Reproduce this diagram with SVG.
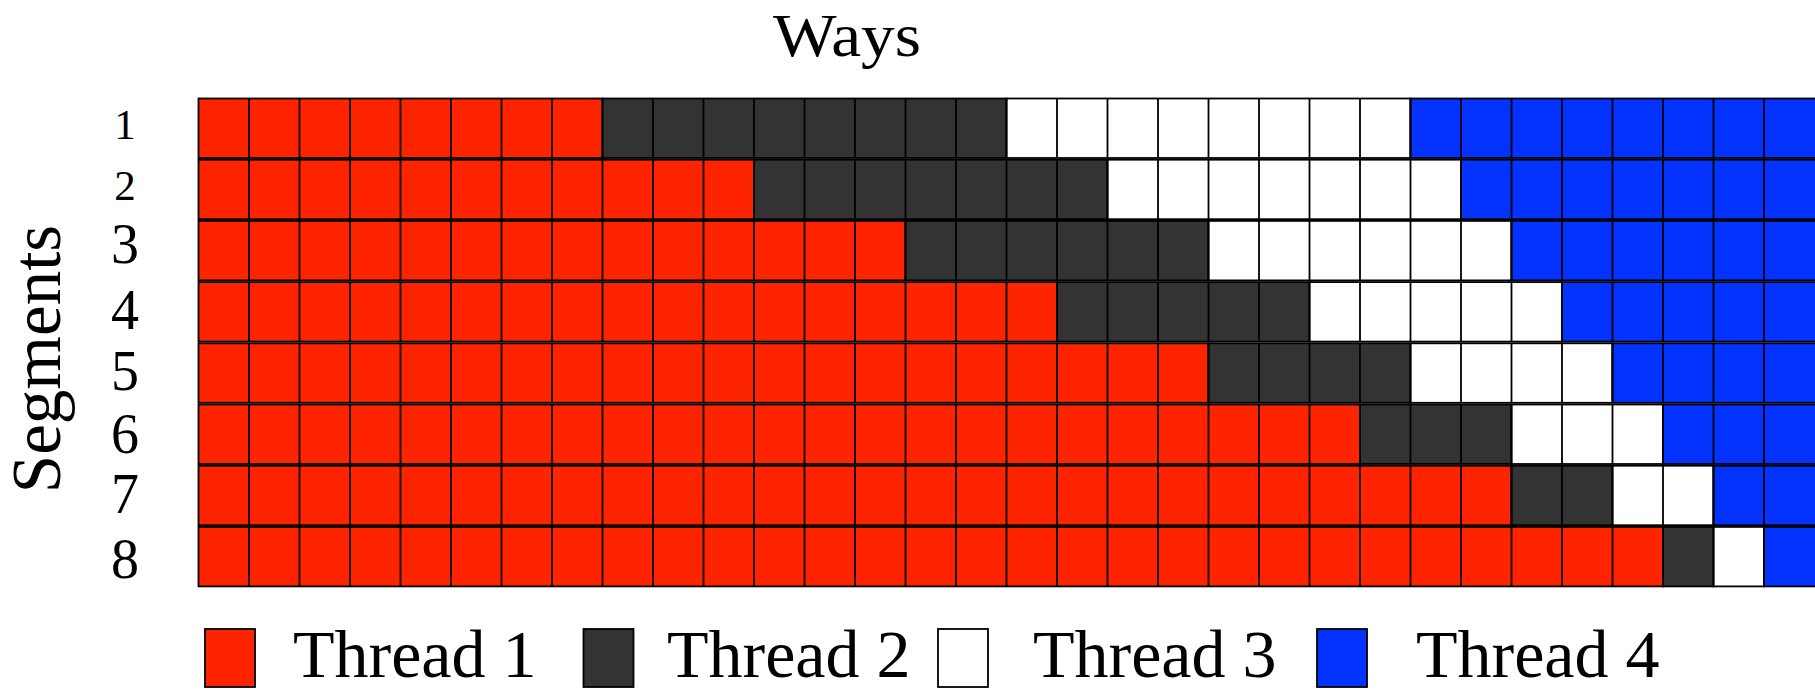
<svg xmlns="http://www.w3.org/2000/svg" xmlns:xlink="http://www.w3.org/1999/xlink" width="1815" height="690" viewBox="0 0 1815 690">
<style>
text{font-family:"Liberation Serif","Times New Roman",serif;fill:#000}
.r{fill:#FF2400}.k{fill:#333333}.w{fill:#FFFFFF}.b{fill:#0433FF}
.cell rect,.leg{stroke:#000;stroke-width:1.8}
.vl{stroke:#000;stroke-width:1.8;fill:none}
.lt{font-size:68px}
</style>
<defs>
<path id="vl" class="vl" d="M249 0v59.5M299.5 0v59.5M350 0v59.5M400.5 0v59.5M451 0v59.5M501.5 0v59.5M552 0v59.5M602.5 0v59.5M653 0v59.5M703.5 0v59.5M754 0v59.5M804.5 0v59.5M855 0v59.5M905.5 0v59.5M956 0v59.5M1006.5 0v59.5M1057 0v59.5M1107.5 0v59.5M1158 0v59.5M1208.5 0v59.5M1259 0v59.5M1309.5 0v59.5M1360 0v59.5M1410.5 0v59.5M1461 0v59.5M1511.5 0v59.5M1562 0v59.5M1612.5 0v59.5M1663 0v59.5M1713.5 0v59.5M1764 0v59.5"/>
</defs>
<rect width="1815" height="690" fill="#fff"/>
<text x="847" y="56" font-size="62" text-anchor="middle" textLength="148" lengthAdjust="spacingAndGlyphs">Ways</text>
<text transform="translate(60,359) rotate(-90)" font-size="69" text-anchor="middle">Segments</text>
<g id="rowlabels" text-anchor="middle">
<text x="125" y="139" font-size="43">1</text>
<text x="125" y="200" font-size="43">2</text>
<text x="125" y="263" font-size="56">3</text>
<text x="125" y="329" font-size="56">4</text>
<text x="125" y="390" font-size="56">5</text>
<text x="125" y="453" font-size="56">6</text>
<text x="125" y="513" font-size="56">7</text>
<text x="125" y="578" font-size="56">8</text>
</g>
<g id="row1" class="cell" transform="translate(0,98.5)">
<rect class="r" x="198.5" y="0" width="404" height="59.5"/><rect class="k" x="602.5" y="0" width="404" height="59.5"/><rect class="w" x="1006.5" y="0" width="404" height="59.5"/><rect class="b" x="1410.5" y="0" width="410" height="59.5"/><use xlink:href="#vl"/>
</g>
<g id="row2" class="cell" transform="translate(0,159.7)">
<rect class="r" x="198.5" y="0" width="555.5" height="59.5"/><rect class="k" x="754" y="0" width="353.5" height="59.5"/><rect class="w" x="1107.5" y="0" width="353.5" height="59.5"/><rect class="b" x="1461" y="0" width="360" height="59.5"/><use xlink:href="#vl"/>
</g>
<g id="row3" class="cell" transform="translate(0,220.9)">
<rect class="r" x="198.5" y="0" width="707" height="59.5"/><rect class="k" x="905.5" y="0" width="303" height="59.5"/><rect class="w" x="1208.5" y="0" width="303" height="59.5"/><rect class="b" x="1511.5" y="0" width="310" height="59.5"/><use xlink:href="#vl"/>
</g>
<g id="row4" class="cell" transform="translate(0,282.1)">
<rect class="r" x="198.5" y="0" width="858.5" height="59.5"/><rect class="k" x="1057" y="0" width="252.5" height="59.5"/><rect class="w" x="1309.5" y="0" width="252.5" height="59.5"/><rect class="b" x="1562" y="0" width="260" height="59.5"/><use xlink:href="#vl"/>
</g>
<g id="row5" class="cell" transform="translate(0,343.3)">
<rect class="r" x="198.5" y="0" width="1010" height="59.5"/><rect class="k" x="1208.5" y="0" width="202" height="59.5"/><rect class="w" x="1410.5" y="0" width="202" height="59.5"/><rect class="b" x="1612.5" y="0" width="210" height="59.5"/><use xlink:href="#vl"/>
</g>
<g id="row6" class="cell" transform="translate(0,404.5)">
<rect class="r" x="198.5" y="0" width="1161.5" height="59.5"/><rect class="k" x="1360" y="0" width="151.5" height="59.5"/><rect class="w" x="1511.5" y="0" width="151.5" height="59.5"/><rect class="b" x="1663" y="0" width="160" height="59.5"/><use xlink:href="#vl"/>
</g>
<g id="row7" class="cell" transform="translate(0,465.7)">
<rect class="r" x="198.5" y="0" width="1313" height="59.5"/><rect class="k" x="1511.5" y="0" width="101" height="59.5"/><rect class="w" x="1612.5" y="0" width="101" height="59.5"/><rect class="b" x="1713.5" y="0" width="110" height="59.5"/><use xlink:href="#vl"/>
</g>
<g id="row8" class="cell" transform="translate(0,526.9)">
<rect class="r" x="198.5" y="0" width="1464.5" height="59.5"/><rect class="k" x="1663" y="0" width="50.5" height="59.5"/><rect class="w" x="1713.5" y="0" width="50.5" height="59.5"/><rect class="b" x="1764" y="0" width="60" height="59.5"/><use xlink:href="#vl"/>
</g>
<g id="legend">
<g id="leg1"><rect class="leg r" x="205" y="629" width="50" height="58"/><text class="lt" x="293" y="677">Thread 1</text></g>
<g id="leg2"><rect class="leg k" x="583.5" y="629" width="50" height="58"/><text class="lt" x="667" y="677">Thread 2</text></g>
<g id="leg3"><rect class="leg w" x="938" y="629" width="50" height="58"/><text class="lt" x="1033" y="677">Thread 3</text></g>
<g id="leg4"><rect class="leg b" x="1317" y="629" width="50" height="58"/><text class="lt" x="1416" y="677">Thread 4</text></g>
</g>
</svg>
